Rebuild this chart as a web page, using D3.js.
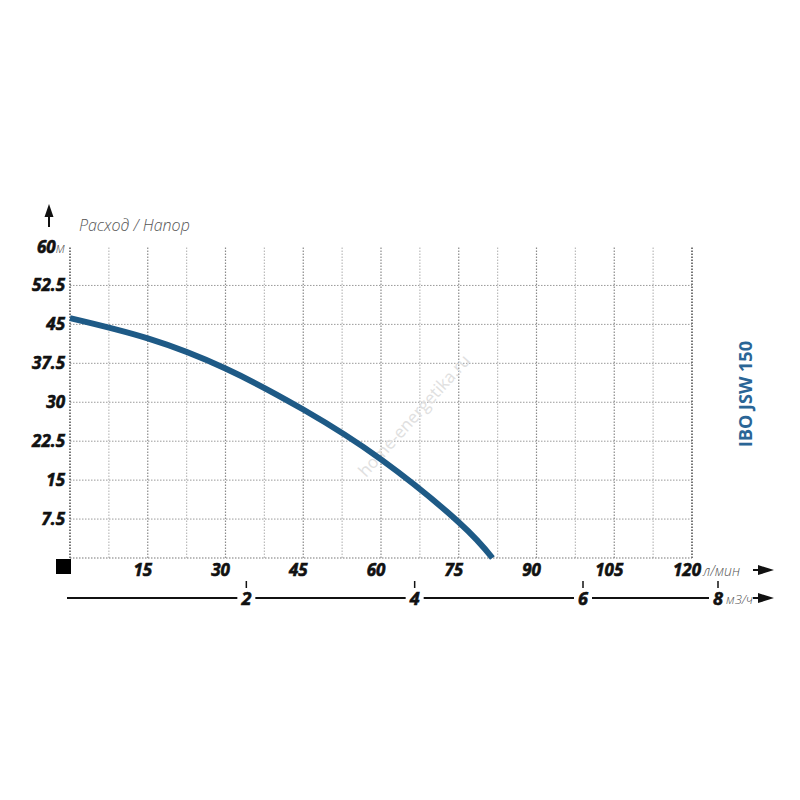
<!DOCTYPE html>
<html>
<head>
<meta charset="utf-8">
<script src="https://cdn.jsdelivr.net/npm/d3@7"></script>
<style>
  body { margin: 0; background: #fff; }
  text { font-family: "Open Sans", sans-serif; }
  .num { font-weight: bold; font-style: italic; fill: #111; stroke: #111; stroke-width: 0.6; }
  .unit { font-weight: 300; font-style: italic; fill: #555; stroke: none; }
</style>
</head>
<body>
<div class="chart"></div>
<script>
// flow (l/min) vs head (m)
var flow = [0, 15, 30, 45, 60, 75, 81.5];
var head = [46.2, 42.3, 36.5, 28.6, 19.0, 6.9, 0];

var xTicks = [15, 30, 45, 60, 75, 90, 105, 120];
var yTicks = [7.5, 15, 22.5, 30, 37.5, 45, 52.5, 60];
var m3Ticks = [2, 4, 6, 8];
var gridX = d3.range(0, 120.1, 7.5);
var gridY = d3.range(7.5, 52.6, 7.5);

var svg = d3.select(".chart").append("svg")
    .attr("width", 800)
    .attr("height", 800);

var x = d3.scaleLinear().domain([0, 120]).range([70, 692]);
var y = d3.scaleLinear().domain([0, 60]).range([558, 246.5]);
// second axis in m3/h (squeezed at the end, as in the picture)
var xm = d3.scaleLinear().domain([0, 6, 8]).range([78, 583, 718]);

// grid
svg.append("g").selectAll("line")
    .data(gridY)
    .enter().append("line")
    .attr("x1", x(0)).attr("x2", x(120))
    .attr("y1", function(d) { return y(d); })
    .attr("y2", function(d) { return y(d); })
    .attr("stroke", "#9a9a9a")
    .attr("stroke-width", 1)
    .attr("stroke-dasharray", "1.5,1.5");

svg.append("g").selectAll("line")
    .data(gridX)
    .enter().append("line")
    .attr("x1", function(d) { return x(d); })
    .attr("x2", function(d) { return x(d); })
    .attr("y1", y(0)).attr("y2", y(60))
    .attr("stroke", function(d) {
        if (d == 0 || d == 120) return "#555";
        return d % 15 == 0 ? "#8a8a8a" : "#bbb";
    })
    .attr("stroke-width", function(d) { return (d == 0 || d == 120) ? 1.6 : 1.2; })
    .attr("stroke-dasharray", "1.5,1.5");

svg.append("line")
    .attr("x1", x(0)).attr("x2", x(120))
    .attr("y1", y(0)).attr("y2", y(0))
    .attr("stroke", "#777")
    .attr("stroke-width", 1.2)
    .attr("stroke-dasharray", "1.5,1.5");

// watermark
svg.append("text")
    .attr("transform", "translate(366,478) rotate(-48)")
    .attr("font-size", 17)
    .attr("fill", "#e0e0e0")
    .text("home-energetika.ru");

// curve
var line = d3.line()
    .x(function(d) { return x(d[0]); })
    .y(function(d) { return y(d[1]); })
    .curve(d3.curveNatural);

svg.append("path")
    .datum(d3.zip(flow, head))
    .attr("d", line)
    .attr("fill", "none")
    .attr("stroke", "#1e5a86")
    .attr("stroke-width", 6);

// y labels
var yl = svg.append("g").selectAll("text")
    .data(yTicks)
    .enter().append("text")
    .attr("class", "num")
    .attr("x", 65)
    .attr("y", function(d) { return y(d) + 6; })
    .attr("text-anchor", "end")
    .attr("font-size", 17);
yl.append("tspan").text(function(d) { return d; });
yl.filter(function(d) { return d == 60; })
    .append("tspan")
    .attr("class", "unit")
    .attr("font-size", 14)
    .text("м");

// y arrow + title
svg.append("line")
    .attr("x1", 49).attr("x2", 49)
    .attr("y1", 227).attr("y2", 212)
    .attr("stroke", "#111").attr("stroke-width", 2);
svg.append("path")
    .attr("d", "M49,204 L44.5,217 L53.5,217 Z")
    .attr("fill", "#111");
svg.append("text")
    .attr("class", "unit")
    .attr("x", 79).attr("y", 231)
    .attr("font-size", 16)
    .text("Расход / Напор");

// black square at origin
svg.append("rect")
    .attr("x", 56).attr("y", 559)
    .attr("width", 15).attr("height", 15)
    .attr("fill", "#000");

// x labels (l/min)
svg.append("g").selectAll("text")
    .data(xTicks)
    .enter().append("text")
    .attr("class", "num")
    .attr("x", function(d) { return x(d) - 5; })
    .attr("y", 576)
    .attr("text-anchor", "middle")
    .attr("font-size", 17)
    .text(function(d) { return d; });

svg.append("text")
    .attr("class", "unit")
    .attr("x", 703).attr("y", 576)
    .attr("font-size", 14)
    .text("л/мин");

// second axis (m3/h)
svg.append("line")
    .attr("x1", 67).attr("x2", xm(8) - 8)
    .attr("y1", 598).attr("y2", 598)
    .attr("stroke", "#111").attr("stroke-width", 2);

var m3 = svg.append("g").selectAll("g")
    .data(m3Ticks)
    .enter().append("g")
    .attr("transform", function(d) { return "translate(" + xm(d) + ",0)"; });
m3.append("rect")
    .attr("x", -9).attr("y", 588)
    .attr("width", 18).attr("height", 20)
    .attr("fill", "#fff");
m3.append("line")
    .attr("x1", 0).attr("x2", 0)
    .attr("y1", 581).attr("y2", 588)
    .attr("stroke", "#111").attr("stroke-width", 1.5);
m3.append("text")
    .attr("class", "num")
    .attr("y", 605)
    .attr("text-anchor", "middle")
    .attr("font-size", 18)
    .text(function(d) { return d; });

svg.append("text")
    .attr("class", "unit")
    .attr("x", xm(8) + 8).attr("y", 604)
    .attr("font-size", 13)
    .text("м3/ч");

// axis arrows
[570, 598].forEach(function(yy) {
    svg.append("line")
        .attr("x1", 753).attr("x2", 762)
        .attr("y1", yy).attr("y2", yy)
        .attr("stroke", "#111").attr("stroke-width", 2);
    svg.append("path")
        .attr("d", "M774," + yy + " L758," + (yy - 5) + " L758," + (yy + 5) + " Z")
        .attr("fill", "#111");
});

// model name
svg.append("text")
    .attr("transform", "translate(752,394) rotate(-90)")
    .attr("text-anchor", "middle")
    .attr("font-size", 18)
    .attr("font-weight", "bold")
    .attr("fill", "#2a6596")
    .text("IBO JSW 150");
</script>
</body>
</html>
